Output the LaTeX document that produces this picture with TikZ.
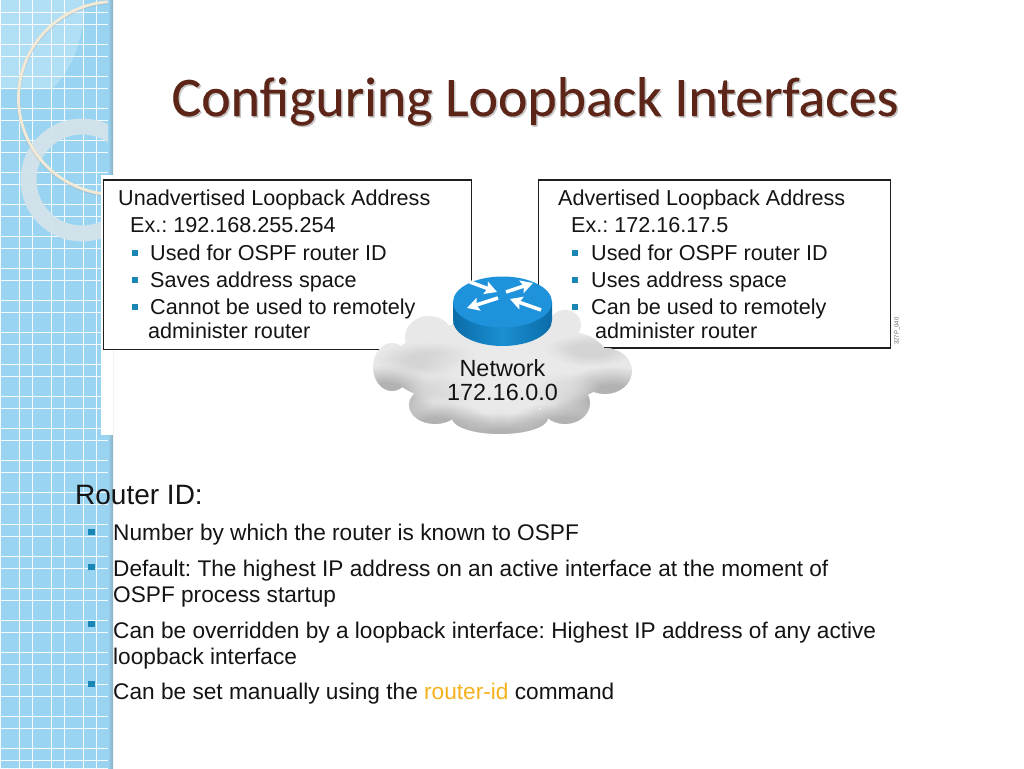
\documentclass[tikz,border=0pt]{standalone}
\usepackage{fontspec}
\setmainfont{Liberation Sans}
\newfontfamily\titlefont[FakeBold=0.3]{Carlito}
\usetikzlibrary{patterns,shadings,fadings,arrows.meta}
\definecolor{strip}{HTML}{98D4F1}
\definecolor{stripdot}{HTML}{B4DFF3}
\definecolor{bull}{HTML}{1A86B5}
\definecolor{titlecol}{HTML}{5C2518}
\definecolor{ringa}{HTML}{F2EAD6}
\definecolor{ringb}{HTML}{D3E2EA}
\definecolor{routertop}{HTML}{1E92DA}
\definecolor{routerdark}{HTML}{0B6CA8}
\definecolor{routermid}{HTML}{1A8FD2}
\definecolor{orangetxt}{HTML}{F5B21E}
\pgfdeclareradialshading{softedge}{\pgfpointorigin}{color(0bp)=(pgftransparent!0); color(10bp)=(pgftransparent!0); color(25bp)=(pgftransparent!100); color(50bp)=(pgftransparent!100)}
\pgfdeclarefading{softfade}{\pgfuseshading{softedge}}
\tikzset{
  boxtxt/.style={anchor=base west,inner sep=0pt,font=\fontsize{21.6}{21.6}\selectfont,text=black!92},
  listtxt/.style={anchor=base west,inner sep=0pt,font=\fontsize{22.65}{22.65}\selectfont,text=black!92},
  panel/.style={draw=black!88,line width=1.9pt,fill=white,inner sep=0pt,anchor=north west},
  sqbull/.style={fill=bull,draw=none,minimum size=6.5pt,inner sep=0pt,rectangle},
  softdark/.style={fill=black!30,path fading=softfade},
  softcrease/.style={fill=black!17,path fading=softfade},
  softlight/.style={fill=black!8,path fading=softfade},
  gridline/.style={draw=white,line width=.9pt,opacity=.9},
  routerarrow/.style={draw=white,line width=3.6pt,-{Stealth[length=12pt,width=13pt,inset=2pt]}}
}
\begin{document}
\frenchspacing
\begin{tikzpicture}[x=1pt,y=-1pt]
\useasboundingbox (0,0) rectangle (1024,768);
\fill[white] (0,0) rectangle (1024,768);
% side strip
\begin{scope}
\clip (0,0) rectangle (113,768);
\fill[strip] (0,0) rectangle (113,768);
\fill[pattern=dots,pattern color=stripdot] (0,0) rectangle (113,768);
\fill[white,opacity=.24] (0,89) -- (52,89) .. controls (72,70) and (84,40) .. (84,0) -- (0,0) -- cycle;
\foreach \k in {0,...,3} {
  \draw[gridline] ({0.4+32*\k},0) -- ({0.4+32*\k},768);
  \draw[gridline] ({19.5+32*\k},0) -- ({19.5+32*\k},768);
}
\foreach \k in {0,...,23} {
  \draw[gridline] (0,{12.3+32*\k}) -- (113,{12.3+32*\k});
  \draw[gridline] (0,{24.7+32*\k}) -- (113,{24.7+32*\k});
}
\draw[ringb,line width=16pt,opacity=.95] (82,180) circle (53.5);
\draw[black!35,line width=3.6pt,opacity=.35] (115,98.8) circle (96.5);
\draw[ringa,line width=2.8pt] (115,98) circle (96.5);
\shade[left color=strip,right color=strip!55!gray] (108,0) rectangle (113,768);
\end{scope}
\fill[white] (101,175) rectangle (113,435);
% title
\node[anchor=base,inner sep=0pt,font=\titlefont\fontsize{55.8}{55.8}\selectfont,text=black!35,opacity=.6] (titleshadow) at (536.5,117.5) {Configuring Loopback Interfaces};
\node[anchor=base,inner sep=0pt,font=\titlefont\fontsize{55.8}{55.8}\selectfont,text=titlecol] (title) at (535,116) {Configuring Loopback Interfaces};
% panels
\node[panel,minimum width=368pt,minimum height=169.5pt] (leftbox) at (102.5,179) {};
\node[panel,minimum width=352pt,minimum height=168pt] (rightbox) at (537.5,179) {};
% cloud
\begin{scope}
\foreach \x/\y/\a/\b in {
  392/367/19/24, 429/337/24/21, 440/366/50/32, 435/405/26/19,
  500/418/48/16, 565/403/25/21, 605/371/27/23, 565/325/16/15, 570/365/40/33, 500/365/90/48}
  \fill[black!9] (\x,\y) ellipse [x radius=\a,y radius=\b];
\clip
  (392,367) ellipse [x radius=19,y radius=24]
  (429,337) ellipse [x radius=24,y radius=21]
  (440,366) ellipse [x radius=50,y radius=32]
  (435,405) ellipse [x radius=26,y radius=19]
  (500,418) ellipse [x radius=48,y radius=16]
  (565,403) ellipse [x radius=25,y radius=21]
  (605,371) ellipse [x radius=27,y radius=23]
  (565,325) ellipse [x radius=16,y radius=15]
  (570,365) ellipse [x radius=40,y radius=33]
  (500,365) ellipse [x radius=90,y radius=48];
\foreach \x/\y/\a/\b in {
  385/395/50/30, 435/430/60/30, 500/442/85/30, 565/430/60/30, 612/398/60/32}
  \fill[softdark] (\x,\y) ellipse [x radius=\a,y radius=\b];
\foreach \x/\y/\a/\b in {
  430/360/55/18, 590/350/45/16, 450/388/45/16, 555/388/45/16}
  \fill[softcrease] (\x,\y) ellipse [x radius=\a,y radius=\b];
\fill[softlight] (502,375) ellipse [x radius=85,y radius=42];
\end{scope}
% panel text
\node[boxtxt] (l1) at (118,205) {Unadvertised Loopback Address};
\node[boxtxt] (l2) at (130,232) {Ex.: 192.168.255.254};
\node[boxtxt] (l3) at (150,260) {Used for OSPF router ID};
\node[boxtxt] (l4) at (150,287) {Saves address space};
\node[boxtxt] (l5) at (150,314) {Cannot be used to remotely};
\node[boxtxt] (l6) at (148,338) {administer router};
\node[boxtxt] (r1) at (558,205) {Advertised Loopback Address};
\node[boxtxt] (r2) at (571,232) {Ex.: 172.16.17.5};
\node[boxtxt] (r3) at (591,260) {Used for OSPF router ID};
\node[boxtxt] (r4) at (591,287) {Uses address space};
\node[boxtxt] (r5) at (591,314) {Can be used to remotely};
\node[boxtxt] (r6) at (595,338) {administer router};
\foreach \n/\x/\y in {a/135/253,b/135/280,c/135/307,d/575/253,e/575/280,f/575/307}
  \node[sqbull,minimum size=5.5pt] (s\n) at (\x,\y) {};
\node[anchor=center,rotate=90,inner sep=0pt,font=\fontsize{6}{6}\selectfont,text=black!60] (code) at (897,331) {327P\_040};
\node[anchor=base,inner sep=0pt,font=\fontsize{23.4}{23.4}\selectfont,text=black!92] (net1) at (502.5,376) {Network};
\node[anchor=base,inner sep=0pt,font=\fontsize{23.4}{23.4}\selectfont,text=black!92] (net2) at (502.5,400) {172.16.0.0};
% router
\shade[left color=routerdark,right color=routerdark,middle color=routermid]
  (453,302) -- (453,320) arc[start angle=180,end angle=0,x radius=49.5,y radius=26] -- (552,302) -- cycle;
\fill[routertop] (502.5,302) ellipse [x radius=49.5,y radius=25.5];
\coordinate (a1) at (470,282); \coordinate (a2) at (497,292);
\coordinate (b1) at (506,292); \coordinate (b2) at (533,283);
\coordinate (c1) at (498,298); \coordinate (c2) at (467,308);
\coordinate (d1) at (541,310); \coordinate (d2) at (510,299);
\draw[routerarrow] (a1) -- (a2);
\draw[routerarrow] (b1) -- (b2);
\draw[routerarrow] (c1) -- (c2);
\draw[routerarrow] (d1) -- (d2);
% lower text
\node[anchor=base west,inner sep=0pt,font=\fontsize{28}{28}\selectfont,text=black!92] (rid) at (75,504) {Router ID:};
\node[listtxt] (t1) at (113,540) {Number by which the router is known to OSPF};
\node[listtxt] (t2) at (113,576) {Default: The highest IP address on an active interface at the moment of};
\node[listtxt] (t3) at (113,602) {OSPF process startup};
\node[listtxt] (t4) at (113,638) {Can be overridden by a loopback interface: Highest IP address of any active};
\node[listtxt] (t5) at (113,664) {loopback interface};
\node[listtxt] (t6) at (113,699) {Can be set manually using the \textcolor{orangetxt}{router-id} command};
\foreach \n/\y in {a/532,b/567,c/624,d/684}
  \node[sqbull] (b\n) at (91.5,\y) {};
\end{tikzpicture}
\end{document}
